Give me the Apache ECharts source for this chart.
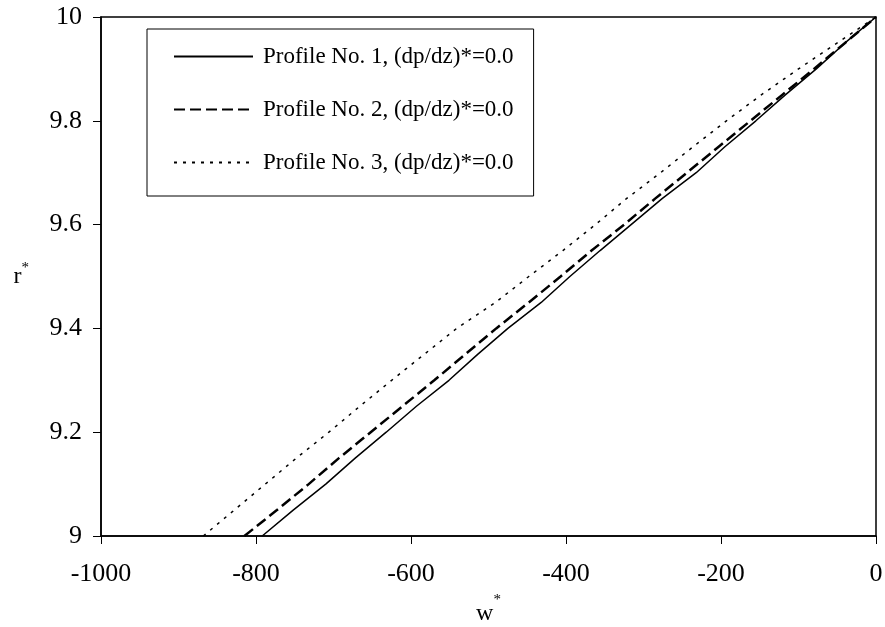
<!DOCTYPE html>
<html>
<head>
<meta charset="utf-8">
<script src="https://cdn.jsdelivr.net/npm/echarts@6/dist/echarts.min.js"></script>
<style>html,body{margin:0;padding:0;background:#fff;}#c{width:885px;height:627px;}</style>
</head>
<body>
<div id="c"></div>
<script>
// r* levels (shared by all profiles)
var rLevels = [9.0, 9.05, 9.10, 9.15, 9.20, 9.25, 9.30, 9.35, 9.40, 9.45, 9.50, 9.55, 9.60, 9.65, 9.70, 9.75, 9.80, 9.85, 9.90, 9.95, 10.0];
// w* values for each profile at those r* levels
var wProfile1 = [-792, -752, -710, -672, -632, -593, -551, -514, -475, -432, -395, -356, -316, -276, -232, -195, -155, -117, -77, -40, 0];
var wProfile2 = [-815, -773, -732, -693, -652, -611, -570, -530, -490, -448, -407, -367, -325, -285, -244, -203, -162, -121, -80, -40, 0];
var wProfile3 = [-868, -828, -788, -748, -706, -666, -625, -583, -541, -491, -448, -404, -362, -322, -278, -236, -193, -148, -100, -50, 0];
var seriesNames = ['Profile No. 1, (dp/dz)*=0.0', 'Profile No. 2, (dp/dz)*=0.0', 'Profile No. 3, (dp/dz)*=0.0'];
var xTicks = [-1000, -800, -600, -400, -200, 0];
var yTicks = [9, 9.2, 9.4, 9.6, 9.8, 10];

function pairs(w) { return w.map(function (v, i) { return [v, rLevels[i]]; }); }

var font = '"Liberation Serif", "Times New Roman", serif';
var chart = echarts.init(document.getElementById('c'), null, {renderer: 'canvas'});
chart.setOption({
  animation: false,
  backgroundColor: '#fff',
  grid: {left: 101, right: 9, top: 17, bottom: 91, containLabel: false, outerBoundsMode: 'none', show: true, borderColor: '#000', borderWidth: 1.5},
  xAxis: {
    type: 'value', min: xTicks[0], max: xTicks[xTicks.length - 1], interval: 200,
    axisLine: {onZero: false, lineStyle: {color: '#000', width: 1.5}},
    axisTick: {show: true, length: 8, inside: false, lineStyle: {color: '#000', width: 1}},
    splitLine: {show: false},
    axisLabel: {color: '#000', fontFamily: font, fontSize: 26, margin: 25, formatter: function (v) { return String(v); }},
    name: 'w{s|*}', nameLocation: 'middle', nameGap: 57,
    nameTextStyle: {color: '#000', fontFamily: font, fontSize: 24, rich: {s: {fontSize: 15, fontFamily: font, color: '#000', verticalAlign: 'top', padding: [0, 0, 26, 0]}}}
  },
  yAxis: {
    type: 'value', min: yTicks[0], max: yTicks[yTicks.length - 1], interval: 0.2,
    axisLine: {onZero: false, lineStyle: {color: '#000', width: 1.5}},
    axisTick: {show: true, length: 8, inside: false, lineStyle: {color: '#000', width: 1}},
    splitLine: {show: false},
    axisLabel: {color: '#000', fontFamily: font, fontSize: 26, margin: 19, formatter: function (v) { return String(Math.round(v * 10) / 10); }},
    name: 'r{s|*}', nameLocation: 'middle', nameGap: 72, nameRotate: 0,
    nameTextStyle: {color: '#000', fontFamily: font, fontSize: 24, rich: {s: {fontSize: 15, fontFamily: font, color: '#000', padding: [0, 0, 16, 0]}}}
  },
  legend: {
    show: true, orient: 'vertical', left: 147, top: 29,
    backgroundColor: '#fff', borderColor: '#000', borderWidth: 1,
    padding: [16, 20, 22, 26], itemGap: 30, itemWidth: 79, itemHeight: 14,
    itemStyle: {opacity: 0},
    textStyle: {color: '#000', fontFamily: font, fontSize: 23, lineHeight: 23, padding: [0, 0, 0, 5]},
    data: seriesNames
  },
  series: [
    {name: seriesNames[0], type: 'line', data: pairs(wProfile1), symbol: 'none', lineStyle: {color: '#000', width: 1.5, type: 'solid'}, itemStyle: {color: '#000'}},
    {name: seriesNames[1], type: 'line', data: pairs(wProfile2), symbol: 'none', lineStyle: {color: '#000', width: 2.5, type: [11, 5]}, itemStyle: {color: '#000'}},
    {name: seriesNames[2], type: 'line', data: pairs(wProfile3), symbol: 'none', lineStyle: {color: '#000', width: 1.5, type: [3, 6]}, itemStyle: {color: '#000'}}
  ]
});
</script>
</body>
</html>
